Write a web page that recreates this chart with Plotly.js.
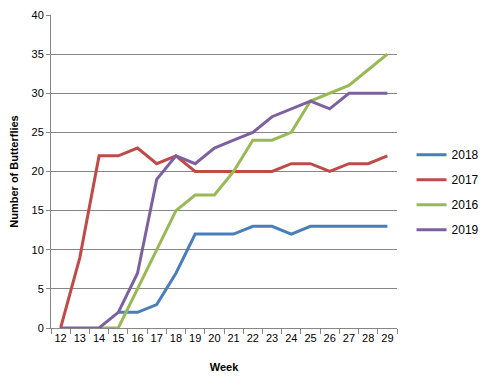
<!DOCTYPE html>
<html><head><meta charset="utf-8">
<script src="https://cdn.plot.ly/plotly-3.0.1.min.js"></script>
<style>html,body{margin:0;padding:0;background:#fff}#chart{width:486px;height:385px}</style>
</head><body><div id="chart"></div>
<script>
const weeks = [12,13,14,15,16,17,18,19,20,21,22,23,24,25,26,27,28,29];
const s2018 = [null,null,null,2,2,3,7,12,12,12,13,13,12,13,13,13,13,13];
const s2017 = [0,9,22,22,23,21,22,20,20,20,20,20,21,21,20,21,21,22];
const s2016 = [null,null,0,0,5,10,15,17,17,20,24,24,25,29,30,31,33,35];
const s2019 = [0,0,0,2,7,19,22,21,23,24,25,27,28,29,28,30,30,30];
const names = ['2018','2017','2016','2019'];
const colors = ['#4A7EBB','#BE4B48','#98B954','#7D60A0'];
const series = [s2018,s2017,s2016,s2019];
const traces = series.map((s,i)=>({x:weeks.map(String),y:s,name:names[i],type:'scatter',mode:'lines',
  line:{color:colors[i],width:3},legendgroup:'g'+i,connectgaps:false}));
const font = {family:'Liberation Sans, Arial, sans-serif',size:11,color:'#000'};
Plotly.newPlot('chart',traces,{
  width:486,height:385,margin:{l:51,r:89,t:15,b:57,autoexpand:false},
  paper_bgcolor:'#fff',plot_bgcolor:'#fff',font:font,
  xaxis:{type:'category',range:[-0.5,17.5],showgrid:false,showline:true,linecolor:'#868686',linewidth:1,
    ticks:'outside',ticklen:5,tickcolor:'#868686',tickson:'boundaries',tickfont:font,tickangle:0,
    title:{text:'<b>Week</b>',font:font,standoff:20},zeroline:false},
  yaxis:{range:[0,40],dtick:5,showgrid:true,gridcolor:'#868686',gridwidth:1,showline:true,linecolor:'#868686',
    ticks:'outside',ticklen:4,tickcolor:'#868686',tickfont:font,zeroline:false,
    title:{text:'<b>Number of Butterflies</b>',font:font,standoff:10}},
  legend:{x:1.042,y:0.434,xanchor:'left',yanchor:'middle',font:{family:font.family,size:12,color:'#000'},
    traceorder:'grouped',tracegroupgap:6,itemwidth:30,bgcolor:'rgba(0,0,0,0)'},
  showlegend:true
},{displayModeBar:false,staticPlot:true});
</script></body></html>
